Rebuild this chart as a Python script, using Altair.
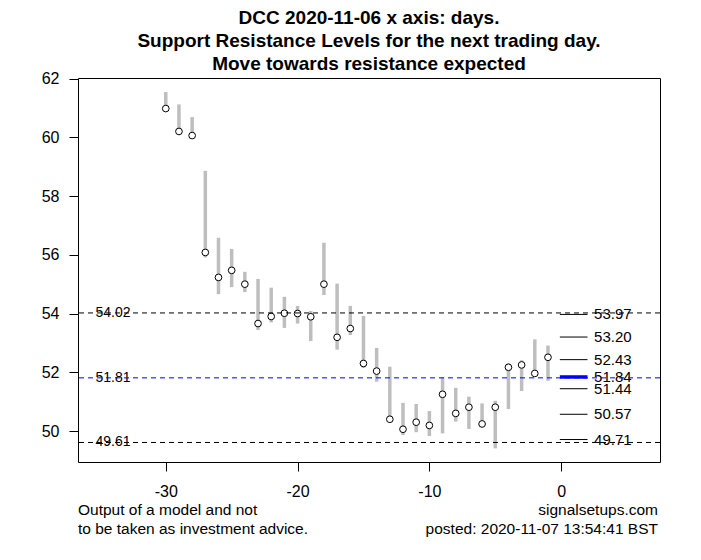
import altair as alt
import pandas as pd

# ---- data ----
days = list(range(-30, 0))
close = [60.98, 60.20, 60.06, 56.08, 55.23, 55.47, 55.00, 53.66, 53.90, 54.01,
         54.00, 53.89, 55.00, 53.19, 53.49, 52.30, 52.04, 50.40, 50.06, 50.30,
         50.19, 51.25, 50.60, 50.81, 50.24, 50.81, 52.17, 52.25, 51.96, 52.51]
high = [61.54, 61.12, 60.69, 58.86, 56.58, 56.20, 55.42, 55.18, 54.88, 54.57,
        54.26, 54.09, 56.41, 55.02, 54.26, 53.92, 52.83, 52.19, 50.96, 50.92,
        50.68, 51.83, 51.47, 51.17, 50.94, 51.03, 52.30, 52.41, 53.12, 52.91]
low = [60.95, 60.15, 59.96, 55.91, 54.66, 54.90, 54.73, 53.44, 53.70, 53.51,
       53.66, 53.06, 54.63, 52.77, 53.27, 52.15, 51.68, 50.32, 49.86, 49.96,
       49.83, 49.92, 50.32, 50.07, 50.15, 49.41, 50.75, 51.36, 51.87, 51.71]

band_levels = [54.02, 51.81, 49.61]
band_labels = ["54.02", "51.81", "49.61"]
band_colors = ["black", "blue", "black"]

next_levels = [53.97, 53.20, 52.43, 51.84, 51.44, 50.57, 49.71]
next_labels = ["53.97", "53.20", "52.43", "51.84", "51.44", "50.57", "49.71"]
next_colors = ["black", "black", "black", "blue", "black", "black", "black"]
next_widths = [1, 1, 1, 3.5, 1, 1, 1]

title_lines = ["DCC 2020-11-06 x axis: days.",
               "Support Resistance Levels for the next trading day.",
               "Move towards resistance expected"]
foot_left = ["Output of a model and not", "to be taken as investment advice."]
foot_right = ["signalsetups.com", "posted: 2020-11-07 13:54:41 BST"]

x_ticks = [-30, -20, -10, 0]
y_ticks = [50, 52, 54, 56, 58, 60, 62]
x_domain = [-36.66, 7.5]
y_domain = [48.945, 62.02]

W, H = 582, 384
FONT = "Liberation Sans"

candles = pd.DataFrame({"day": days, "close": close, "high": high, "low": low})
bands = pd.DataFrame({"level": band_levels, "label": band_labels,
                      "color": band_colors, "lx": [-34] * 3})
nxt = pd.DataFrame({"level": next_levels, "label": next_labels,
                    "color": next_colors, "w": next_widths,
                    "x1": [-0.1] * 7, "x2": [2.0] * 7, "tx": [2.5] * 7})

xs = alt.Scale(domain=x_domain, nice=False, zero=False)
ys = alt.Scale(domain=y_domain, nice=False, zero=False)

x_axis = alt.Axis(values=x_ticks, grid=False, domain=False, tickSize=9,
                  tickColor="black", labelFont=FONT, labelFontSize=16,
                  labelColor="black", labelPadding=12, title=None,
                  labelExpr="'' + datum.value")
y_axis = alt.Axis(values=y_ticks, grid=False, domain=False, tickSize=9,
                  tickColor="black", labelFont=FONT, labelFontSize=16,
                  labelColor="black", labelPadding=10, title=None)

bars = alt.Chart(candles).mark_rule(color="#BEBEBE", strokeWidth=3.5).encode(
    x=alt.X("day:Q", scale=xs, axis=x_axis),
    y=alt.Y("low:Q", scale=ys, axis=y_axis),
    y2="high:Q",
)

pts = alt.Chart(candles).mark_point(shape="circle", fill="white", filled=True,
                                    stroke="black", strokeWidth=1, size=45,
                                    opacity=1).encode(
    x=alt.X("day:Q", scale=xs),
    y=alt.Y("close:Q", scale=ys),
)

band_text = alt.Chart(bands).mark_text(font=FONT, fontSize=14, color="black",
                                       align="center", baseline="middle").encode(
    x=alt.X("lx:Q", scale=xs),
    y=alt.Y("level:Q", scale=ys),
    text="label:N",
)

band_lines = alt.Chart(bands).mark_rule(strokeDash=[5, 4], strokeWidth=1).encode(
    y=alt.Y("level:Q", scale=ys),
    color=alt.Color("color:N", scale=None),
)

lvl_lines = alt.Chart(nxt).mark_rule().encode(
    x=alt.X("x1:Q", scale=xs),
    x2="x2:Q",
    y=alt.Y("level:Q", scale=ys),
    color=alt.Color("color:N", scale=None),
    strokeWidth=alt.StrokeWidth("w:Q", scale=None),
)

lvl_text = alt.Chart(nxt).mark_text(font=FONT, fontSize=15, color="black",
                                    align="left", baseline="middle").encode(
    x=alt.X("tx:Q", scale=xs),
    y=alt.Y("level:Q", scale=ys),
    text="label:N",
)


def foot(text, xpos, ypos, align):
    return alt.Chart(pd.DataFrame({"t": [text]})).mark_text(
        font=FONT, fontSize=15.5, color="black", align=align, baseline="middle"
    ).encode(x=alt.value(xpos), y=alt.value(ypos), text="t:N")


foots = [
    foot(foot_left[0], 0, H + 48, "left"),
    foot(foot_left[1], 0, H + 67, "left"),
    foot(foot_right[0], W - 2, H + 48, "right"),
    foot(foot_right[1], W - 2, H + 67, "right"),
]

chart = alt.layer(
    bars, pts, band_text, band_lines, lvl_lines, lvl_text, *foots
).properties(
    width=W, height=H,
    title=alt.TitleParams(text=title_lines, font=FONT, fontSize=19,
                          fontWeight="bold", color="black", lineHeight=23,
                          anchor="middle", baseline="alphabetic", offset=0,
                          dy=18),
    autosize=alt.AutoSizeParams(type="none"),
    padding={"left": 70, "top": 70, "right": 20, "bottom": 80},
).configure_view(stroke="black", strokeWidth=1)

chart.save("out.html", embed_options={"renderer": "svg", "actions": False})
